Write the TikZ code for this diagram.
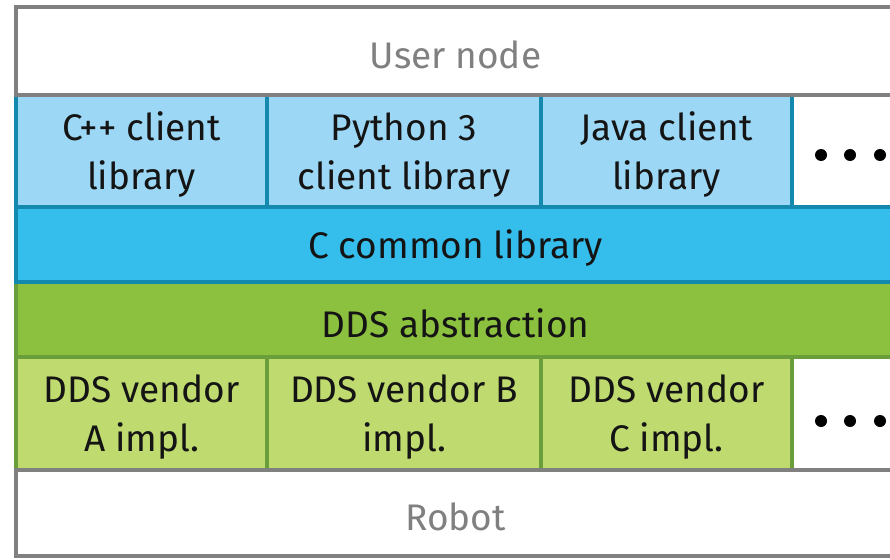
\documentclass[tikz,border=0pt]{standalone}
\usepackage{fontspec}
\setmainfont{Fira Sans}
\definecolor{edgegray}{HTML}{808080}
\definecolor{clientfill}{HTML}{9CD7F5}
\definecolor{commonfill}{HTML}{35BDEB}
\definecolor{edgeblue}{HTML}{1389AE}
\definecolor{abstrfill}{HTML}{8CC13F}
\definecolor{vendorfill}{HTML}{BFDA6F}
\definecolor{edgegreen}{HTML}{6A9E3A}
\definecolor{inktext}{HTML}{141414}
\tikzset{
  layer/.style={rectangle, inner sep=0pt, line width=4pt},
  caption/.style={inner sep=0pt, align=center, yshift=-4pt,
    font=\fontsize{37}{49}\selectfont, text=inktext},
  hostcaption/.style={caption, text=edgegray},
  hostbox/.style={layer, draw=edgegray, fill=white},
  clientbox/.style={layer, draw=edgeblue, fill=clientfill},
  commonbox/.style={layer, draw=edgeblue, fill=commonfill},
  abstrbox/.style={layer, draw=edgegreen, fill=abstrfill},
  vendorbox/.style={layer, draw=edgegreen, fill=vendorfill},
  morebox/.style={layer, fill=white},
  dot/.style={fill=black, draw=none}
}
\begin{document}
\begin{tikzpicture}[x=1pt, y=-1pt]
\useasboundingbox (0,0) rectangle (890,559);
\clip (0,0) rectangle (890,559);
\fill[white] (0,0) rectangle (890,559);

% DDS vendor implementations
\node[vendorbox, minimum width=251pt, minimum height=113pt] (vendA) at (141.5,413.5) {};
\node[vendorbox, minimum width=274pt, minimum height=113pt] (vendB) at (404,413.5) {};
\node[vendorbox, minimum width=251pt, minimum height=113pt] (vendC) at (666.5,413.5) {};
\node[morebox, draw=edgegreen, minimum width=251pt, minimum height=113pt] (vendMore) at (917.5,413.5) {};
\node[caption] (vendAText) at (vendA.center) {DDS vendor\\A impl.};
\node[caption] (vendBText) at (vendB.center) {DDS vendor B\\impl.};
\node[caption] (vendCText) at (vendC.center) {DDS vendor\\C impl.};

% middle layers
\node[abstrbox, minimum width=879pt, minimum height=75pt] (abstr) at (455.5,319.5) {};
\node[caption] (abstrText) at (abstr.center) {DDS abstraction};
\node[commonbox, minimum width=879pt, minimum height=75pt] (common) at (455.5,244.5) {};
\node[caption] (commonText) at (common.center) {C common library};

% client libraries
\node[clientbox, minimum width=251pt, minimum height=112pt] (cpp) at (141.5,151) {};
\node[clientbox, minimum width=274pt, minimum height=112pt] (python) at (404,151) {};
\node[clientbox, minimum width=251pt, minimum height=112pt] (java) at (666.5,151) {};
\node[morebox, draw=edgeblue, minimum width=251pt, minimum height=112pt] (clientMore) at (917.5,151) {};
\node[caption] (cppText) at (cpp.center) {C++ client\\library};
\node[caption] (pythonText) at (python.center) {Python 3\\client library};
\node[caption] (javaText) at (java.center) {Java client\\library};

% host layers
\node[hostbox, minimum width=879pt, minimum height=88pt] (user) at (455.5,51) {};
\node[hostcaption] (userText) at (user.center) {User node};
\node[hostbox, minimum width=879pt, minimum height=86pt] (robot) at (455.5,513) {};
\node[hostcaption] (robotText) at (robot.center) {Robot};

% ellipsis marks
\foreach \px in {821,850,880} {
  \fill[dot] (\px,155) circle (6pt);
  \fill[dot] (\px,421) circle (6pt);
}
\end{tikzpicture}
\end{document}
